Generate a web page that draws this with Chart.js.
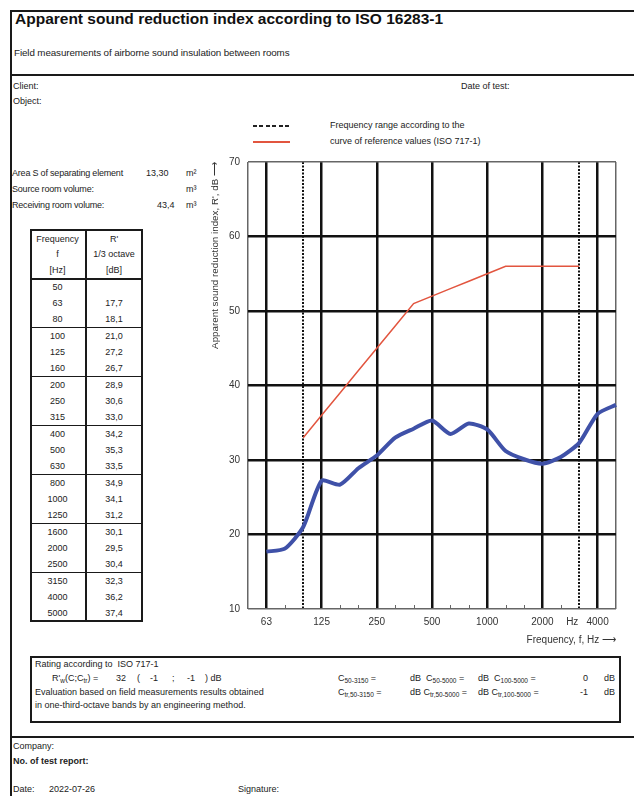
<!DOCTYPE html>
<html>
<head>
<meta charset="utf-8">
<script src="https://cdn.jsdelivr.net/npm/chart.js@4"></script>
<style>
  html, body { margin: 0; padding: 0; background: #fff; }
  body { width: 634px; height: 796px; position: relative; overflow: hidden;
         font-family: 'Liberation Sans', Arial, sans-serif; color: #222; }
  .t { position: absolute; white-space: pre; line-height: 1; font-size: 9px; }
  .ln { position: absolute; background: #1a1a1a; }
  .c { text-align: center; }
  sub { font-size: 6.5px; vertical-align: -2px; line-height: 0; }
  #chart { position: absolute; left: 200px; top: 148px; }
</style>
</head>
<body>

<!-- page frame -->
<div class="ln" style="left:10px;top:10px;width:2px;height:786px"></div>
<div class="ln" style="left:10px;top:10px;width:624px;height:2px"></div>
<div class="ln" style="left:10px;top:74px;width:624px;height:2px"></div>
<div class="ln" style="left:10px;top:736px;width:624px;height:2px"></div>

<div class="t" style="left:15px;top:11px;font-size:15.5px;font-weight:bold;color:#111">Apparent sound reduction index according to ISO 16283-1</div>
<div class="t" style="left:14px;top:48px;font-size:9.8px;letter-spacing:-0.1px">Field measurements of airborne sound insulation between rooms</div>

<div class="t" style="left:13px;top:82px">Client:</div>
<div class="t" style="left:461px;top:82px">Date of test:</div>
<div class="t" style="left:13px;top:97px">Object:</div>

<!-- legend -->
<div style="position:absolute;left:253px;top:125px;width:37px;height:1.5px;background:repeating-linear-gradient(90deg,#222 0 4px,transparent 4px 6.5px)"></div>
<div style="position:absolute;left:253px;top:141px;width:37px;height:1.5px;background:#e2553f"></div>
<div class="t" style="left:330px;top:121px">Frequency range according to the</div>
<div class="t" style="left:330px;top:137px">curve of reference values (ISO 717-1)</div>

<!-- room data -->
<div class="t" style="left:12px;top:169px;letter-spacing:-0.2px">Area S of separating element</div>
<div class="t" style="left:146px;top:169px">13,30</div>
<div class="t" style="left:186px;top:169px">m²</div>
<div class="t" style="left:12px;top:185px;letter-spacing:-0.2px">Source room volume:</div>
<div class="t" style="left:186px;top:185px">m³</div>
<div class="t" style="left:12px;top:201px;letter-spacing:-0.2px">Receiving room volume:</div>
<div class="t" style="left:157px;top:201px">43,4</div>
<div class="t" style="left:186px;top:201px">m³</div>

<div id="table"></div>

<canvas id="chart" width="434" height="502"></canvas>

<!-- rating box -->
<div style="position:absolute;left:30px;top:656px;width:587px;height:63px;border:2px solid #1a1a1a"></div>
<div class="t" style="left:35px;top:660px">Rating according to  ISO 717-1</div>
<div class="t" style="left:52px;top:674px">R'<sub>w</sub>(C;C<sub>tr</sub>) =</div>
<div class="t" style="left:116px;top:674px">32</div>
<div class="t" style="left:137px;top:674px">(</div>
<div class="t" style="left:150px;top:674px">-1</div>
<div class="t" style="left:172px;top:674px">;</div>
<div class="t" style="left:187px;top:674px">-1</div>
<div class="t" style="left:205px;top:674px">) dB</div>
<div class="t" style="left:35px;top:688px">Evaluation based on field measurements results obtained</div>
<div class="t" style="left:35px;top:701px">in one-third-octave bands by an engineering method.</div>

<div class="t" style="left:338px;top:674px">C<sub>50-3150</sub> =</div>
<div class="t" style="left:410px;top:674px">dB  C<sub>50-5000</sub> =</div>
<div class="t" style="left:478px;top:674px">dB  C<sub>100-5000</sub> =</div>
<div class="t" style="left:583px;top:674px">0</div>
<div class="t" style="left:604px;top:674px">dB</div>
<div class="t" style="left:338px;top:688px">C<sub>tr,50-3150</sub> =</div>
<div class="t" style="left:410px;top:688px">dB C<sub>tr,50-5000</sub> =</div>
<div class="t" style="left:478px;top:688px">dB C<sub>tr,100-5000</sub> =</div>
<div class="t" style="left:580px;top:688px">-1</div>
<div class="t" style="left:604px;top:688px">dB</div>

<!-- footer -->
<div class="t" style="left:13px;top:742px">Company:</div>
<div class="t" style="left:13px;top:757px;font-weight:bold">No. of test report:</div>
<div class="t" style="left:13px;top:785px">Date:</div>
<div class="t" style="left:49px;top:785px">2022-07-26</div>
<div class="t" style="left:238px;top:785px">Signature:</div>

<script>
// ---- data ----
const bands = ['50', '63', '80', '100', '125', '160', '200', '250', '315', '400', '500',
               '630', '800', '1000', '1250', '1600', '2000', '2500', '3150', '4000', '5000'];
const measured = [null, 17.7, 18.1, 21.0, 27.2, 26.7, 28.9, 30.6, 33.0, 34.2, 35.3,
                  33.5, 34.9, 34.1, 31.2, 30.1, 29.5, 30.4, 32.3, 36.2, 37.4];
const reference = [null, null, null, 33, 36, 39, 42, 45, 48, 51, 52,
                   53, 54, 55, 56, 56, 56, 56, 56, null, null];
const tickLabels = ['', '63', '', '', '125', '', '', '250', '', '', '500',
                    '', '', '1000', '', '', '2000', '', 'Hz     ', '4000', ''];
const majorBands = ['63', '125', '250', '500', '1000', '2000', '4000'];
const rangeBands = ['100', '3150'];
const yMin = 10, yMax = 70, yStep = 10;

// ---- table of values ----
function fmt(v) { return v == null ? '' : v.toFixed(1).replace('.', ','); }

function buildTable() {
  const host = document.getElementById('table');
  const L = 30, R = 143, M = 85, T = 229, H = 50, rowH = 16.33;
  const bottom = T + H + rowH * bands.length;
  let html = '';
  html += `<div style="position:absolute;left:${L}px;top:${T}px;width:${R - L - 4}px;height:${bottom - T - 4}px;border:2px solid #1a1a1a"></div>`;
  html += `<div class="ln" style="left:${M}px;top:${T}px;width:1.5px;height:${bottom - T}px"></div>`;
  const lc = (L + M) / 2, rc = (M + R) / 2;
  const head = [['Frequency', "R'"], ['f', '1/3 octave'], ['[Hz]', '[dB]']];
  head.forEach((h, i) => {
    const y = T + 10 + i * 15.5 - 4.5;
    html += `<div class="t c" style="left:${lc - 30}px;width:60px;top:${y}px">${h[0]}</div>`;
    html += `<div class="t c" style="left:${rc - 30}px;width:60px;top:${y}px">${h[1]}</div>`;
  });
  for (let k = 0; k < 7; k++) {
    const y = T + H + k * rowH * 3 - 1;
    html += `<div class="ln" style="left:${L}px;top:${y}px;width:${R - L}px;height:1.5px"></div>`;
  }
  bands.forEach((b, i) => {
    const y = T + H + rowH * i + rowH / 2 - 4.5;
    html += `<div class="t c" style="left:${lc - 30}px;width:60px;top:${y}px">${b}</div>`;
    html += `<div class="t c" style="left:${rc - 30}px;width:60px;top:${y}px">${fmt(measured[i])}</div>`;
  });
  host.innerHTML = html;
}
buildTable();

// ---- chart ----
function xKind(i) {
  const b = bands[i];
  if (i === 0 || i === bands.length - 1) return 'edge';
  if (majorBands.includes(b)) return 'major';
  if (rangeBands.includes(b)) return 'range';
  return 'minor';
}

// short third-octave ticks inside the plot, along the bottom edge
const minorTicks = {
  id: 'minorTicks',
  afterDatasetsDraw(chart) {
    const { ctx, chartArea, scales } = chart;
    ctx.save();
    ctx.strokeStyle = '#666';
    ctx.lineWidth = 1;
    bands.forEach((b, i) => {
      if (xKind(i) !== 'minor') return;
      const x = Math.round(scales.x.getPixelForValue(i)) + 0.5;
      ctx.beginPath();
      ctx.moveTo(x, chartArea.bottom);
      ctx.lineTo(x, chartArea.bottom - 4);
      ctx.stroke();
    });
    ctx.restore();
  }
};

const font = (size) => ({ family: "'Liberation Sans', Arial, sans-serif", size });

new Chart(document.getElementById('chart'), {
  type: 'line',
  data: {
    labels: bands,
    datasets: [
      {
        label: "R'",
        data: measured,
        borderColor: '#3f51a8',
        borderWidth: 4,
        pointRadius: 0,
        tension: 0.22
      },
      {
        label: 'Reference curve (ISO 717-1)',
        data: reference,
        borderColor: '#e2553f',
        borderWidth: 1.5,
        pointRadius: 0,
        tension: 0
      }
    ]
  },
  options: {
    responsive: false,
    animation: false,
    devicePixelRatio: 1,
    layout: { padding: { top: 11, right: 18, left: 0, bottom: 0 } },
    plugins: { legend: { display: false }, tooltip: { enabled: false } },
    scales: {
      x: {
        type: 'category',
        offset: false,
        grid: {
          drawTicks: false,
          color: c => {
            const k = xKind(c.index);
            return k === 'edge' ? '#666' : k === 'minor' ? 'rgba(0,0,0,0)' : '#111';
          },
          lineWidth: c => {
            const k = xKind(c.index);
            return k === 'major' ? 2.5 : k === 'range' ? 2 : k === 'edge' ? 1.5 : 0;
          }
        },
        border: {
          display: false,
          dash: c => (c.index !== undefined && xKind(c.index) === 'range') ? [2, 1.5] : []
        },
        ticks: {
          autoSkip: false,
          maxRotation: 0,
          padding: 7,
          color: '#333',
          font: font(10),
          callback: (v, i) => tickLabels[i]
        },
        title: {
          display: true,
          text: 'Frequency, f, Hz \u27F6',
          align: 'end',
          color: '#333',
          font: font(10),
          padding: { top: 4, bottom: 4 }
        },
        afterFit: s => { s.height = 41; }
      },
      y: {
        min: yMin,
        max: yMax,
        ticks: {
          stepSize: yStep,
          padding: 8,
          color: '#333',
          font: font(10)
        },
        grid: {
          drawTicks: false,
          color: c => (c.tick.value === yMin || c.tick.value === yMax) ? '#666' : '#111',
          lineWidth: c => (c.tick.value === yMin || c.tick.value === yMax) ? 1.5 : 2.5
        },
        border: { display: false },
        title: {
          display: true,
          text: "Apparent sound reduction index, R', dB \u27F6",
          align: 'end',
          color: '#333',
          font: font(9.8),
          padding: { top: 9, bottom: 0 }
        },
        afterFit: s => { s.width = 48; }
      }
    }
  },
  plugins: [minorTicks]
});
</script>
</body>
</html>
